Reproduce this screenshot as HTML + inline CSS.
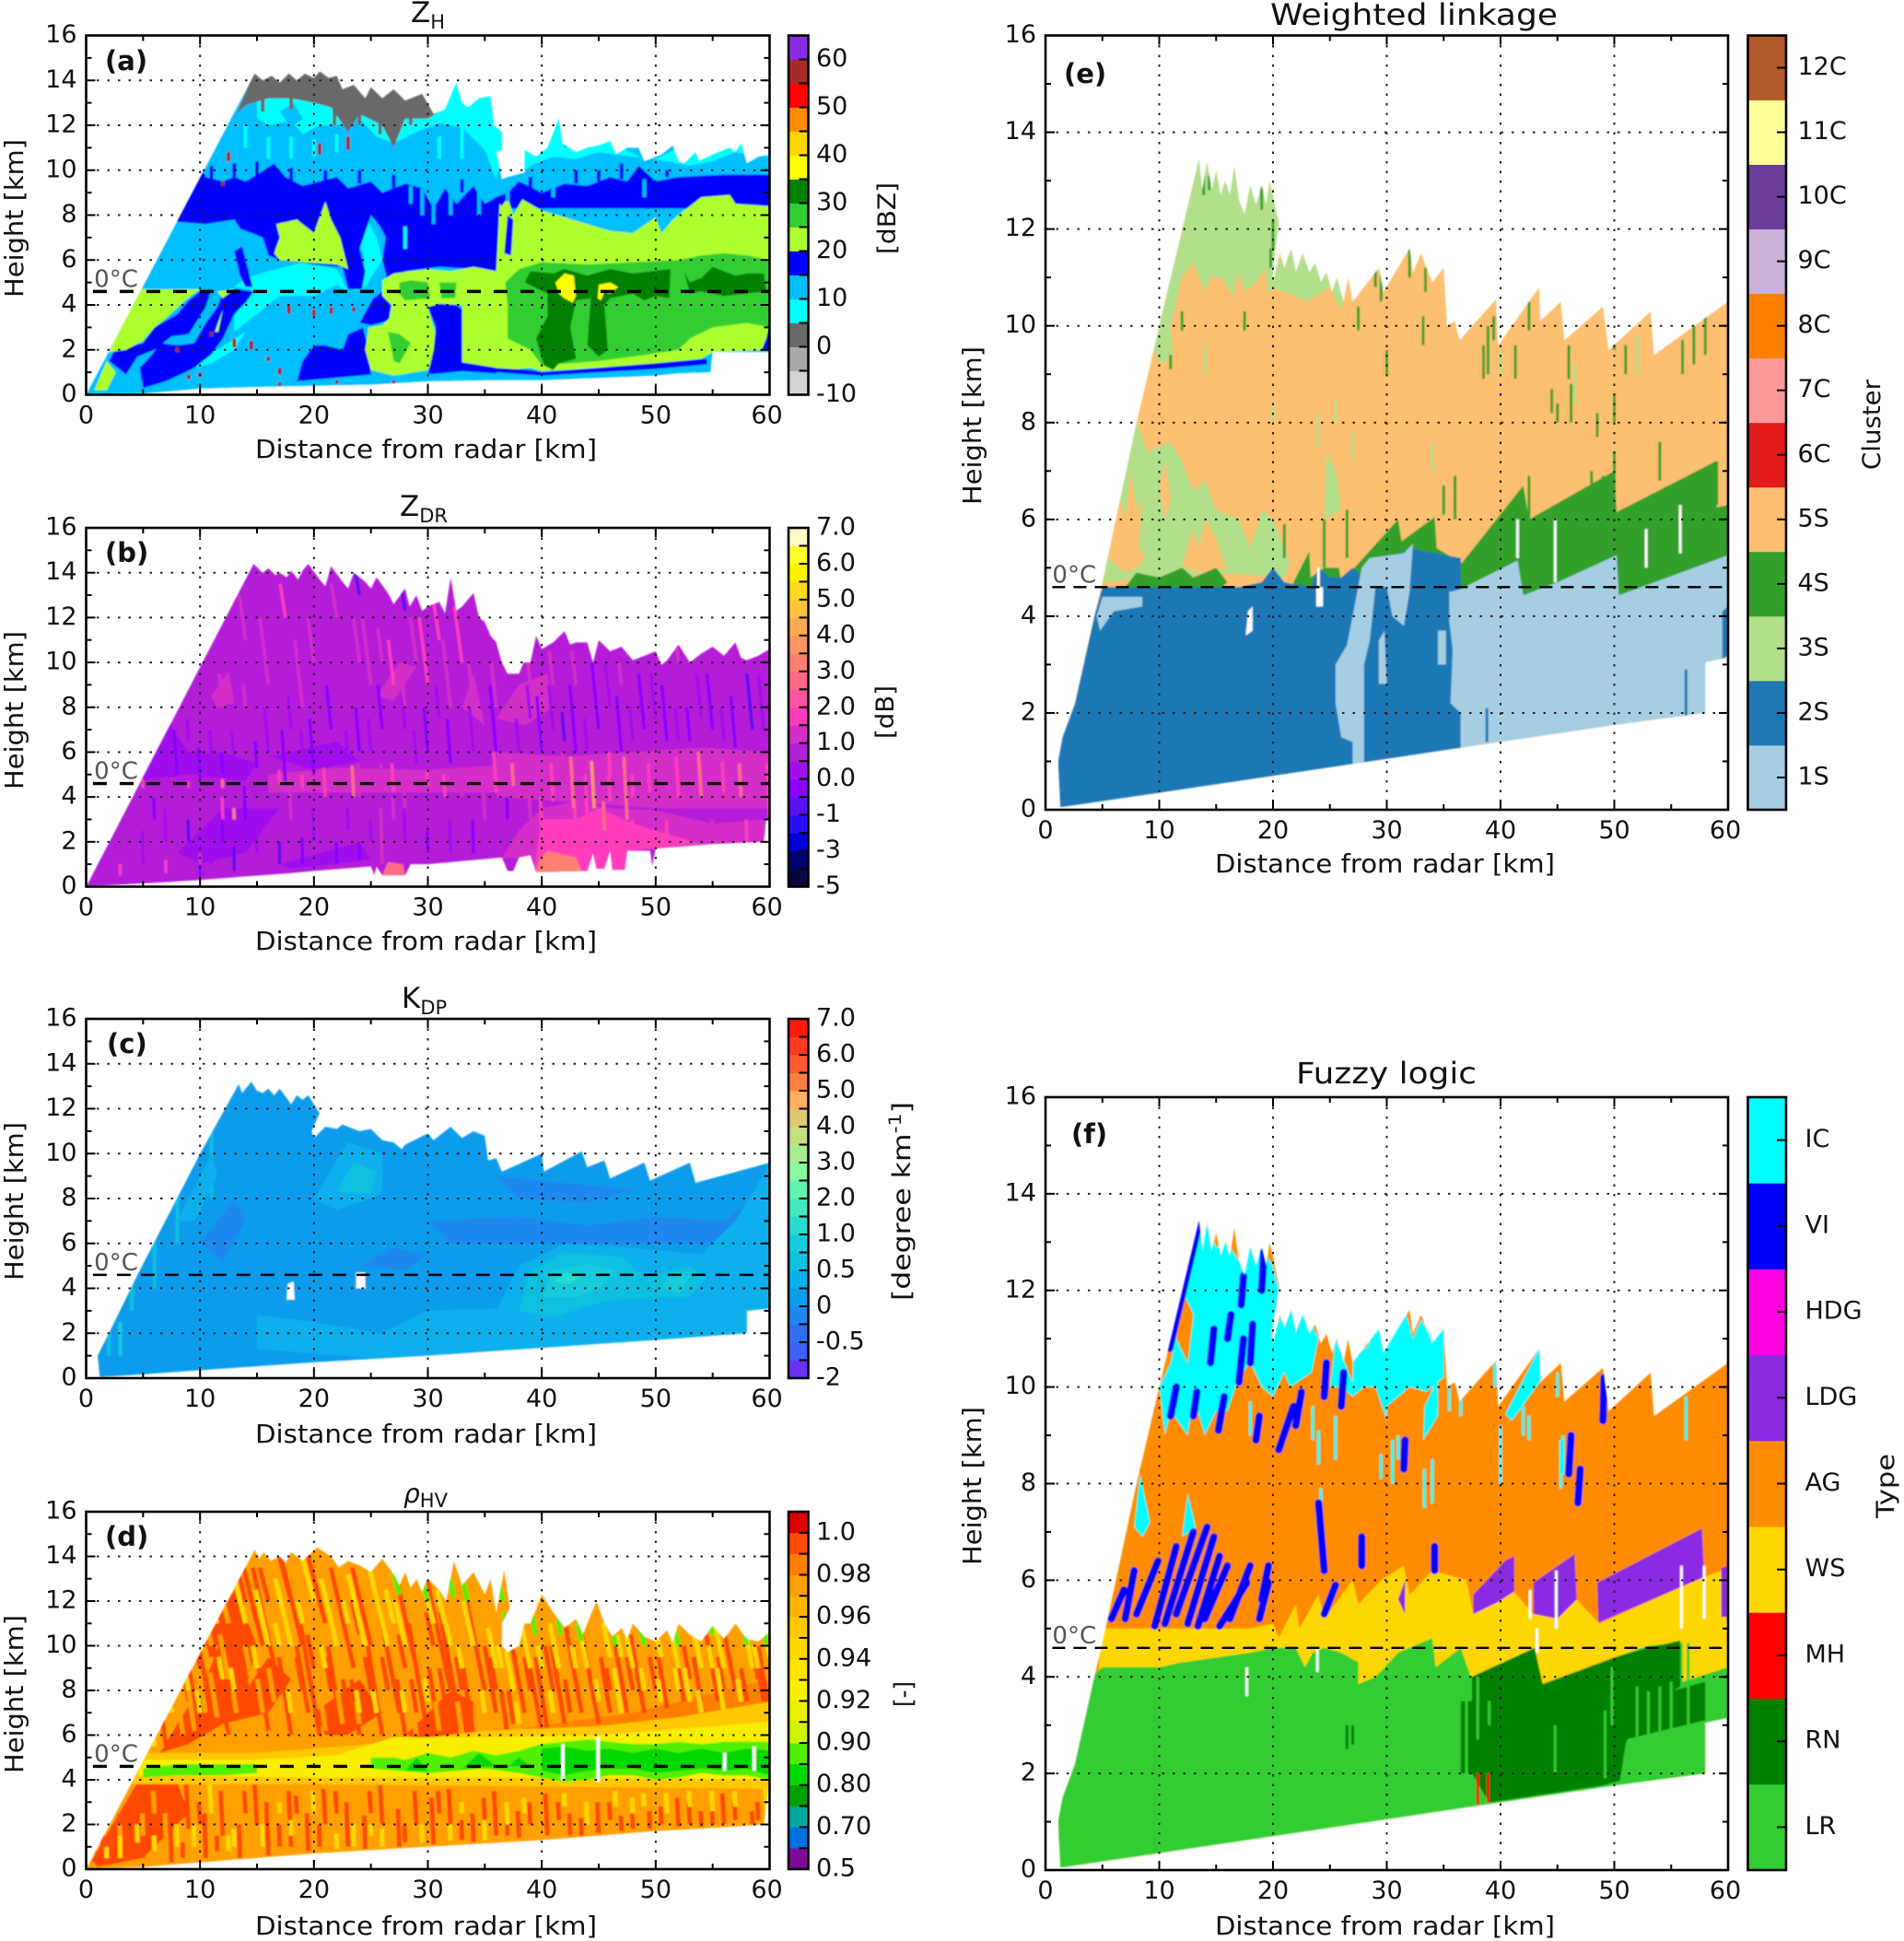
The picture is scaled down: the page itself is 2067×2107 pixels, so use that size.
<!DOCTYPE html>
<html lang="en">
<head>
<meta charset="utf-8">
<title>Radar RHI panels</title>
<style>
html,body{margin:0;padding:0;background:#fff}
svg{display:block}
text{font-family:"DejaVu Sans","Liberation Sans",sans-serif;fill:#111}
</style>
</head>
<body>
<svg id="fig" xmlns="http://www.w3.org/2000/svg" width="2067" height="2107" viewBox="0 0 2067 2107">
<defs><filter id="soft" x="0" y="0" width="1" height="1"><feGaussianBlur stdDeviation="0.7"/></filter></defs>
<rect width="2067" height="2107" fill="#fff"/>
<g id="panels"></g>

<g>
<text x="446" y="24" font-size="31">Z<tspan font-size="21" dy="7">H</tspan></text>
<text x="434" y="560" font-size="31">Z<tspan font-size="21" dy="7">DR</tspan></text>
<text x="436" y="1094" font-size="31">K<tspan font-size="21" dy="7">DP</tspan></text>
<text x="438" y="1631" font-size="28"><tspan font-style="italic">ρ</tspan><tspan font-size="21" dy="5">HV</tspan></text>
<text x="1379" y="27" font-size="32" textLength="312" lengthAdjust="spacingAndGlyphs">Weighted linkage</text>
<text x="1407" y="1176" font-size="32" textLength="196" lengthAdjust="spacingAndGlyphs">Fuzzy logic</text>
</g>

<g font-weight="bold" font-size="29">
<text x="114" y="76">(a)</text>
<text x="114" y="610">(b)</text>
<text x="116" y="1143">(c)</text>
<text x="114" y="1678">(d)</text>
<text x="1155" y="90">(e)</text>
<text x="1163" y="1241">(f)</text>
</g>

<g font-size="28">
<text x="277" y="497" textLength="371" lengthAdjust="spacingAndGlyphs">Distance from radar [km]</text>
<text x="277" y="1031" textLength="371" lengthAdjust="spacingAndGlyphs">Distance from radar [km]</text>
<text x="277" y="1566" textLength="371" lengthAdjust="spacingAndGlyphs">Distance from radar [km]</text>
<text x="277" y="2100" textLength="371" lengthAdjust="spacingAndGlyphs">Distance from radar [km]</text>
<text x="1319" y="947" textLength="369" lengthAdjust="spacingAndGlyphs">Distance from radar [km]</text>
<text x="1319" y="2100" textLength="369" lengthAdjust="spacingAndGlyphs">Distance from radar [km]</text>
</g>

<g font-size="28">
<text transform="translate(25,323) rotate(-90)" textLength="172" lengthAdjust="spacingAndGlyphs">Height [km]</text>
<text transform="translate(25,857) rotate(-90)" textLength="172" lengthAdjust="spacingAndGlyphs">Height [km]</text>
<text transform="translate(25,1390) rotate(-90)" textLength="172" lengthAdjust="spacingAndGlyphs">Height [km]</text>
<text transform="translate(25,1925) rotate(-90)" textLength="172" lengthAdjust="spacingAndGlyphs">Height [km]</text>
<text transform="translate(1065,548) rotate(-90)" textLength="172" lengthAdjust="spacingAndGlyphs">Height [km]</text>
<text transform="translate(1065,1699) rotate(-90)" textLength="172" lengthAdjust="spacingAndGlyphs">Height [km]</text>
</g>

<g font-size="27">
<text transform="translate(972,276) rotate(-90)" textLength="78" lengthAdjust="spacingAndGlyphs">[dBZ]</text>
<text transform="translate(970,802) rotate(-90)" textLength="58" lengthAdjust="spacingAndGlyphs">[dB]</text>
<text transform="translate(988,1412) rotate(-90)" textLength="216" lengthAdjust="spacingAndGlyphs">[degree km<tspan font-size="19" dy="-10">-1</tspan><tspan dy="10">]</tspan></text>
<text transform="translate(990,1853) rotate(-90)" textLength="28" lengthAdjust="spacingAndGlyphs">[-]</text>
<text transform="translate(2041,510) rotate(-90)" textLength="98" lengthAdjust="spacingAndGlyphs">Cluster</text>
<text transform="translate(2056,1648) rotate(-90)" textLength="70" lengthAdjust="spacingAndGlyphs">Type</text>
</g>
</svg>

<script>
/* ---------- shared axis values ---------- */
const distanceTicks = [0, 10, 20, 30, 40, 50, 60];
const distanceMinorTicks = [5, 15, 25, 35, 45, 55];
const heightTicks = [0, 2, 4, 6, 8, 10, 12, 14, 16];
const heightMinorTicks = [1, 3, 5, 7, 9, 11, 13, 15];
const freezingLevel = [4.6];

/* ---------- (a) ZH ---------- */
const zhBounds = [-10,-5,0,5,10,15,20,25,30,35,40,45,50,55,60,65];
const zhColors = ['#d3d3d3','#a9a9a9','#696969','#00ffff','#00bfff','#0000ff','#adff2f','#32cd32','#008000','#ffff00','#ffd700','#ff8c00','#ff0000','#a52a2a','#8a2be2'];
const zhTickLabels = ['-10','0','10','20','30','40','50','60'];
const zhBaseValue = [12];
const zhEnvelope = [[0,0],[14.8,14.3],[15.5,14],[16.3,14.2],[17,13.9],[17.8,14.3],[18.5,14],[19.2,14.3],[20,14.1],[20.5,14.4],[21.3,14.1],[22,14.2],[22.5,13.6],[23.5,13.8],[24.5,13.2],[25,13.7],[26,13.2],[27,13.6],[28,13.1],[29.5,13.4],[30.5,12.5],[31.5,12.7],[32.5,13.9],[33,13],[33.5,12.8],[34.5,13.2],[35.5,13.3],[35.8,12],[36.5,11.7],[36.5,10.9],[36,10.8],[36.5,9.6],[37,9.7],[38.5,9.9],[38.5,10.9],[39.5,10.6],[40.5,11],[41.5,12.3],[41.8,11.2],[43,10.8],[44,11],[45,11.1],[46,11.3],[46.5,10.7],[47.5,11],[48.5,11],[49,10.4],[50.5,10.7],[51.5,11.1],[52,10.4],[52.5,10.3],[53.5,10.8],[53.8,10.4],[55,10.7],[56.5,11],[57,10.8],[57.5,11.2],[58,10.3],[59,10.6],[60,10.7],[60,1.9],[55,1.9],[54.8,1],[52,.95],[50,.85],[45,.75],[40,.65],[35.5,.65],[30,.6],[25,.45],[20,.4],[15,.35],[10,.27],[5,.05],[0,0]];
const zhLayers = [
 [7,[[15,13.2],[18,13.5],[22,13.5],[27,13],[30,13],[32.5,14],[36,13.5],[36.6,11],[36,9.6],[35,10.9],[33,11.9],[31,12.1],[29,11.7],[27,11.2],[25.5,11.5],[24,12.3],[22,12],[20.5,12],[19,11.6],[18,12.2],[16,12],[15,12.3]]],
 [12,[[17,12.6],[18.2,13],[19,12.3],[18,11.9]]],
 [7,[[36,10.8],[38,11],[41.5,12.4],[42,11],[46,11.4],[47,11],[49,10.5],[50,10.5],[52,11],[54,10.8],[57.5,11.3],[60,10.8],[60,10.6],[57,10.8],[55,10.4],[53,10.2],[51,10.4],[48,10.6],[45,10.8],[43,10.5],[41,10.6],[39,10.2],[38,9.8]]],
 [7,[[13,2.8],[15,3.6],[17,4.4],[20,4.4],[22,4.9],[23,4.6],[22,5.6],[19,5.9],[16,5.5],[14,5.2],[13,4.8],[14.5,4.7],[13,3.5]]],
 [7,[[8,1],[11,1.4],[13,2],[14,2.8],[11.5,2],[9,1.5]]],
 [7,[[23.5,4.6],[24.5,4.8],[26,6],[25.5,7],[24.3,8.2],[23.8,7],[24.5,6]]],
 [2,[[14.8,14.4],[22,14.4],[24,13.9],[27,13.7],[29.5,13.5],[31,12.6],[30,12.3],[28,12.3],[27,11],[26,12],[24,12.5],[23,11.7],[21.5,12.8],[20,13],[18,13.2],[16,13.2],[14,12.9],[13.2,12.5]]],
 [17,[[8.5,8.6],[10,10.3],[10.5,9.7],[12,9.5],[13,9.7],[14,9.5],[15,9.8],[16.5,10.3],[17.5,9.7],[19,9.3],[20.5,9.5],[22,9.7],[23,9.2],[25,9.5],[26,9],[28,9.4],[29.5,9.2],[30.5,8.3],[31.5,9.2],[32.5,8.5],[34,9.3],[35,8.5],[36,8.8],[37,9],[38,9.5],[40,9],[42,9.4],[44,9.3],[46,9.7],[47.5,9.5],[48.5,10.2],[50,9.5],[52,9.7],[56,9.8],[60,9.8],[60,8.3],[36.3,8.3],[36,5.5],[34,5.6],[31,5.7],[28,5.5],[26.5,5],[26,6],[26.3,7],[25.8,7.5],[25,8],[24,6.5],[24.5,5.5],[24.2,4.7],[23,4.7],[22.5,5.7],[20,5.8],[17,6],[16,6.2],[15.5,7],[13.5,7.4],[13,7.8],[10.5,7.6],[8,7.7]]],
 [17,[[13,4.7],[14.7,4.6],[14,4.1],[13,3.6],[12,2.5],[11,1.8],[9.5,1.2],[7,.6],[5,.3],[4.7,1.2],[5.8,1.8],[6.5,2.3],[8,2.2],[9.5,2.3],[10.5,3.2],[11.5,3.9],[12,4.5]]],
 [17,[[10,4.6],[11,4.7],[10.5,3.9],[9,2.7],[7.5,2.6],[6,2],[4.5,1.7],[3.5,.9],[2,1.5],[2.5,2],[5,2.3],[6,3],[7,3.3],[8,3.6],[9,4.2]]],
 [17,[[18.5,.6],[25,.9],[24.7,2.2],[24.3,3],[23,2.7],[22.5,2],[21,2.2],[20,2.2],[19,1.5]]],
 [17,[[24,3.2],[25,3.1],[26.5,3.3],[27,3.8],[26,4.6],[25.2,4.3]]],
 [17,[[13,6.4],[13.7,6.6],[14.6,4.8],[14,4.8],[13.5,5.3]]],
 [22,[[36.3,8.5],[36.5,8.4],[37,8.8],[37.5,8],[38.3,8.7],[40,8.2],[42,7.9],[44,7.6],[46,7.3],[48,7.2],[50,7.9],[50.5,7.2],[51.5,7.8],[53,8.4],[54,8.8],[56.5,8.9],[57,8.5],[60,8.4],[60,2],[55,1.9],[54,1.6],[50,1.4],[45,1.2],[40,1.05],[39,1.2],[37,1.1],[35,1.2],[33,1.4],[33,4],[31,4],[30,3.9],[31,2.2],[30,1.1],[27,.85],[25,1.1],[24.5,2],[24.8,3],[26,3.1],[26.6,3.4],[26.8,4],[26,4.4],[26,5.1],[27,5.4],[30,5.6],[32,5.5],[34,5.7],[36,5.5]]],
 [17,[[36.7,6.3],[37.3,6.2],[37.5,7.8],[37,8]]],
 [17,[[33,1.45],[36,1.2],[36,.95],[33,1.05],[30,.9],[30.5,2],[30.7,3],[30,3.9],[31,4.05],[32.5,4],[33,3.8]]],
 [22,[[2,1.9],[4.8,4.7],[10,4.7],[8.7,4.2],[7,3.4],[6,3],[5,2.4],[3.5,2]]],
 [22,[[.7,.2],[1.8,1.5],[2.6,1],[1.8,.2]]],
 [22,[[16.5,6.3],[17,7],[16.7,7.6],[18.5,7.8],[20,7.2],[21,8.6],[21.5,7.8],[22.3,7],[23,5.6],[22,5.8],[19,5.9],[17,6]]],
 [22,[[11.5,4.6],[13,4.7],[12,4.3]]],
 [22,[[11.3,2.8],[12,3.8],[11.6,2.8]]],
 [27,[[36.8,5],[38,5.6],[40,5.9],[44,5.8],[48,5.9],[52,6],[54,6.2],[56,6.3],[58,6.2],[60,6],[60,3],[58,3.2],[55,3],[53,2.5],[52,2],[48,1.7],[45,1.5],[40,1.3],[39,2],[37,2.5],[37,4]]],
 [27,[[27.5,5],[28.5,5.1],[30,5],[30.2,4.3],[28,4.2],[27.5,4.5]]],
 [27,[[31,5],[32.5,5],[32.4,4.3],[31.2,4.3]]],
 [27,[[26.5,2.8],[27.5,2.7],[28.5,2.3],[27.5,1.4],[27,1.5]]],
 [32,[[38.5,5],[39,5.5],[41,5.4],[42,5.6],[44,5.3],[46,5.6],[48,5.4],[51.3,5.6],[51.2,4.3],[50,4.4],[49,4.2],[48,4.5],[46,4.3],[45.5,4],[45.8,2],[45,1.7],[44,2.2],[44.3,4.3],[43,4.2],[42.5,3],[43,1.6],[41.5,1.4],[41,1.1],[40.2,1.3],[39.5,2.5],[40.5,3.5],[40.5,4.5]]],
 [32,[[52.5,5.5],[53,5],[54,5.2],[55,5.7],[57,5.3],[58,5.4],[59.5,5.4],[59.7,4.6],[56,4.4],[54,4.6],[53,4.5]]],
 [37,[[41.2,5],[42,5.4],[42.8,5.3],[43,4.4],[42.7,4.1],[42,4.3],[41.5,4.5]]],
 [37,[[44.9,4.3],[45,4.9],[46,5],[46.7,4.8],[46,4.5],[45.5,4.6],[45.2,4.2]]],
 [17,[[34,1.25],[39,1.1],[40,1],[45,1.2],[50,1.4],[54.5,1.6],[54.5,1.35],[50,1.15],[45,1],[40,.85],[36,1],[34,1.05]]],
 [17,[[59.3,2],[60,2],[60,3.2],[59.7,2.5]]]
];
const zhStreaks = [
 [12.5,10.4,10.8,57],[12,9.3,9.5,57],[20.5,10.7,11.2,57],[23,10.9,11.5,57],[17.8,3.6,4,57],[20,3.5,3.8,57],[21.5,3.6,3.9,57],[23.5,3.7,3.9,57],[13,2.1,2.5,57],[14.5,2,2.4,57],[8,1.9,2.1,57],[10,.8,1,57],[9,.7,.9,57],[16,1.5,1.7,57],[17,.9,1.2,57],[11,2.6,2.8,57],[17,.4,.55,57],[22,.5,.65,57],[27,.5,.65,57],
 [11,9.5,10.2,17],[13,9.6,10.3,17],[15,9.7,10.4,17],[18,9.5,10.1,17],[21,9.5,10,17],[24,9.4,10,17],[27,9.2,9.8,17],[33,9,9.6,17],[39,9.2,9.7,17],[43,9.4,10,17],[45,9.5,10,17],[47,9.6,10.3,17],[51,9.7,10,17],
 [28.5,8.5,9.3,12],[29.5,8,9.2,12],[30.5,7.6,8.4,12],[32,8,9,12],[34.5,8,9,12],[37,8.6,9.2,12],[41,8.8,9.4,12],[49,8.8,9.6,12],
 [24,12,12.8,2],[25.8,11.6,12.6,2],[21.8,12,12.8,2],[28.5,12,13,2],[15.5,12.6,13.2,2],[18,12.7,13.3,2],
 [28,6.5,7.5,7],[31,10.5,11.5,7],[33,10.5,12,7],[14,11,12,7],[16,10.5,11.5,7],[18,10.5,11.5,7],[20,10.6,11.4,7],[22,10.8,11.6,7]
];

/* ---------- (b) ZDR ---------- */
const zdrBounds = [-5,-4,-3,-2,-1,-.5,0,.5,1,1.5,2,2.5,3,3.5,4,4.5,5,5.5,6,6.5,7];
const zdrColors = ['#08083c','#000070','#0000d8','#2a10f8','#5a10f0','#8a00ff','#a010ec','#b41fd8','#d52ec8','#ff3cbc','#ff55a0','#ff6a88','#ff8070','#ff9560','#ffaa50','#ffc238','#ffd820','#fff000','#ffff2a','#fffbc8'];
const zdrTickLabels = ['-5','-3','-1','0.0','1.0','2.0','3.0','4.0','5.0','6.0','7.0'];
const zdrBaseValue = [.75];
const zdrEnvelope = [[0,0],[14.7,14.4],[15.5,14],[16,14.2],[16.6,13.9],[17,14],[17.6,13.8],[18,14.1],[18.6,13.7],[19,14.1],[19.5,14.4],[20.5,13.7],[21,13.4],[21.5,14.3],[22.5,13.6],[23,13.3],[23.5,14],[24.5,13.6],[25,13.3],[25.5,13.8],[26.5,13.1],[27,12.6],[28,13.3],[28.4,12.5],[29,13],[29.5,12.3],[30,12.5],[31,12.7],[31.5,12.2],[32,13.8],[32.5,12.3],[33,12.5],[34,13.1],[34.5,12],[35,11.8],[35.5,11.2],[36,10.9],[36.5,10],[37,9.5],[38,9.5],[38.4,10],[39,10],[39.5,11.2],[40,10.6],[41,10.9],[42,11.4],[42.5,10.8],[43,10.9],[44,10.9],[44.5,10],[45,11],[46,10.5],[47,10.7],[48,10.1],[50,10.5],[50.5,9.9],[51,10.1],[52,10.8],[53,10],[54,10.4],[55,10.7],[56,10.3],[57,10.9],[57.5,10.2],[58,10.1],[59,10.3],[60,10.6],[60,3],[59.7,3],[59.5,2],[55,1.9],[50,1.7],[49.7,.9],[49.5,1.6],[47.5,1.6],[47.3,.75],[46.2,.75],[46,1.6],[45.5,.8],[44.8,.8],[44.5,1.5],[44,.7],[39.5,.65],[39,1.4],[38,1.3],[37.5,.7],[37,.7],[36.5,1.3],[30,1],[28.5,1],[28,.5],[26,.5],[25.5,.9],[25.3,.5],[25,.9],[20,.7],[18,.6],[10,.3],[7,.2],[0,0]];
const zdrLayers = [
 [.25,[[4.5,4.7],[7,7.5],[9,6],[12,6],[15,5.5],[14,4.7],[9,5]]],
 [.25,[[16,5.8],[22,6.5],[24,5.6],[20,5.2]]],
 [.25,[[8,1.5],[12,3.5],[17,3.5],[14,1.5],[10,1]]],
 [.25,[[17,1],[24,2],[25,1.2],[18,.8]]],
 [1.25,[[36,4],[36,6],[42,5.8],[48,6],[54,6.2],[60,6],[60,3.5],[50,3.5],[42,3.8]]],
 [1.25,[[16,4.2],[22,4.2],[30,4.2],[36,4.2],[36,5.4],[30,5.2],[22,5.3],[16,5]]],
 [1.25,[[36.5,1.3],[38,1.3],[39,1.45],[39.5,.65],[44,.7],[44.5,1.5],[50,1.7],[55,1.9],[59.5,2],[59.7,3],[55,2.8],[50,3.4],[46,3.5],[43,3.8],[40,3.5],[38,2.5]]],
 [1.75,[[39.3,.65],[44,.7],[44.8,.8],[45.5,.8],[46,1.6],[46.2,.75],[47.3,.75],[47.5,1.6],[50,1.7],[54,1.9],[52,2.2],[48,2.8],[45,3.5],[43,3],[40,3]]],
 [3.25,[[39.5,.65],[43.5,.7],[43,1.3],[40.5,1.6],[39.8,1.2]]],
 [2.5,[[26,.5],[28,.5],[27.8,1],[26.5,1.1]]],
 [1.25,[[36,7.5],[38,9],[40.5,9.5],[41,8],[38.5,7.2]]],
 [1.25,[[11,8.5],[12.5,9.6],[13,8.2],[11.5,8]]],
 [1.25,[[25.5,8.5],[27.5,10],[29,9.8],[27,8.3]]],
 [1.25,[[33,8],[34,9.5],[35,7.2]]]
];
const zdrStreaks = [
 [8,5,7,-.2],[10,4.8,6.2,-.2],[12,5,6,-.2],[15,5.3,6.5,-.2],[17.5,4.7,7,-.2],[20,5,7.5,-.2],[21.5,7,9,-.2],[24,6,8,-.2],[26,7,9,-.2],[30,6,8,-.2],[32,5.5,7.5,-.2],[36,6,9,-.2],[40,6,8.5,-.2],[42,6.5,7.8,-.7],[43,6,9,-.2],[45,7,10,-.2],[47,6,8.5,-.2],[49,7,9.5,-.2],[51,6.5,9,-.2],[53,6.5,8,-.2],[55,7,9.5,-.2],[57,6.2,8.5,-.2],[58.5,7,9.5,-.7],[6,3,4,-.2],[9,2,3,-.7],[12,2,4,-.2],[14,3,4.5,-.2],[17,1,2,-.7],[19,1,2.2,-.2],[22,1,2,-.2],[24,1.2,2,-.2],[18,3,4,-.2],[30,1.5,2.5,-.2],[34,1.5,3,-.2],[37,3,4,-.2],[10,.5,1.5,-.2],[13,.7,1.8,-.7],[28,12.3,13.5,-.7],[24,13,14,-.7],
 [7,5.5,6.5,.25],[9,6.5,7.5,.25],[11,6,7,.25],[13,5.5,7,.25],[16,6,8,.25],[18,7,8.5,.25],[19,6,7,.25],[23,5.5,7,.25],[25,6,7.5,.25],[28,7,8.5,.25],[29,5.5,7,.25],[31,7.5,9,.25],[34,6,8,.25],[38,6,7.5,.25],[39,7.5,9,.25],[41,7,9,.25],[44,6,7.5,.25],[46,8,10,.25],[48,6.5,8,.25],[50,7.5,9.5,.25],[52,6.5,8,.25],[54,7.5,9.5,.25],[56,6.5,8,.25],[59.5,7,9.5,.25],[20,2,3.5,.25],[23,2.5,3.5,.25],[25,2,3,.25],[28,2,3.5,.25],[32,1.5,3,.25],[5,1,2.5,.25],[7,2,3.5,.25],[11,1,2,.25],[15,1.5,3,.25],
 [12,8,9.5,1.25],[14,8,9,1.25],[20,10,12,1.25],[22,12,13.5,1.25],[24,10,12,1.25],[26,10,11.5,1.25],[28,8,10,1.25],[29,10,12,1.25],[32,8,11,1.25],[34,8,10,1.25],[36,8,10,1.25],[39,9,10.5,1.25],[41,9,10.5,1.25],[43,9,10.5,1.25],[47,9,10,1.25],[52,10,10.7,1.25],[24,4,5.5,1.25],[26,4.5,5.5,1.25],[28,3.5,4.5,1.25],[33,4,5.2,1.25],[39,3,5,1.25],[44,3,5,1.75],[46,5,6,1.75],[48,4,5,1.75],[50,3.5,5,1.25],[53,4,5.5,1.25],[55,3.8,5.5,1.25],[58,4,5.8,1.25],[40,2.5,4,1.75],[43,2,3.8,1.75],[45.5,2.5,3.8,2.5],[48,2,3,1.75],[51,2,3,1.75],[55,2,3,1.25],[58,2,3,1.75],
 [5,4.4,4.8,1.75],[9,4.4,4.7,1.75],[12,4.4,4.8,2.5],[17,4.6,5.2,1.75],[19,4.4,5,1.75],[21,4,5.3,1.75],[23.5,4,5.4,2.5],[27,4.2,5.5,1.75],[30,4.5,5.2,1.75],[31.5,4,5,1.75],[36,4.2,6,1.75],[37.5,4.5,5.5,2.5],[41,3.8,5.5,1.75],[42.8,3.5,5.8,2.5],[44.6,3.5,5.6,3.5],[46,3.8,5,1.75],[47.5,3,5.8,2.5],[49.5,4.2,5.5,1.75],[52,4,5.8,1.75],[54,4,6,2.5],[56,4.2,5.6,1.75],[57.5,4,5.5,2.5],[60,3,5.5,1.75],
 [14,11,13,1.25],[16,9,12,1.25],[17.5,12,13.5,1.75],[19,8,11,1.25],[25,9,12,1.25],[27,9,11,1.75],[30,9,12,1.75],[31,11,13,1.75],[33,10,12.5,1.75],[12,3,4,1.75],[13,3,3.5,3.25],[10,1,1.5,1.25],[7,.6,1.2,1.75],[3,.5,1,1.75],[18,3,5,1.25],[26,1,3.5,1.25],[27,3,4,1.25],[35,3,4.5,1.25],[42,4.5,6,1.25]
];

/* ---------- (c) KDP ---------- */
const kdpBounds = [-2,-1,-.5,-.25,0,.25,.5,.75,1,1.5,2,2.5,3,3.5,4,4.5,5,5.5,6,6.5,7];
const kdpColors = ['#6a30f8','#4060f4','#3070f0','#1e88f0','#0c9cec','#08b0ec','#0cc0e0','#14ccdc','#28dcd0','#40e8c0','#60f4b0','#88f8a0','#a8ec90','#c8dc80','#e0c870','#ffb060','#ff8040','#ff5a30','#ff3a20','#ff1a10'];
const kdpTickLabels = ['-2','-0.5','0','0.5','1.0','2.0','3.0','4.0','5.0','6.0','7.0'];
const kdpBaseValue = [.1];
const kdpEnvelope = [[1.2,.05],[1,1],[1.3,1.3],[2,2],[4.5,4.6],[10,10],[13.4,13.1],[13.7,12.7],[14.5,13.2],[15,12.8],[15.5,12.7],[16,12.9],[16.5,12.6],[17,12.9],[18,12.2],[18.5,12.6],[19,12.4],[19.5,12.6],[20,12.2],[20.5,11.8],[19.8,11],[20,10.7],[21,11.2],[22,11.1],[22.5,11.3],[24,11],[25,11.1],[26,10.6],[27,10.5],[27.7,10.2],[28,10.4],[30,10.9],[30.5,10.6],[32,11.2],[33,10.7],[34,11],[35,10.8],[35.3,9.7],[36,9.8],[36.5,9.2],[40,10],[40.2,9.2],[43.5,10.1],[44,9.4],[45.5,9.7],[46,8.9],[49,9.6],[49.5,8.8],[53,9.6],[53.5,8.7],[60,9.6],[60,3.1],[58,3],[58,2],[50,1.7],[40,1.35],[30,1],[20,.7],[10,.35],[3,.1],[1.2,.05]];
const kdpLayers = [
 [-.1,[[30,7],[38,7.2],[44,6.8],[50,7.2],[56,7],[60,8.5],[60,6.5],[54,6],[46,6],[38,6],[32,6]]],
 [-.1,[[10,6],[13,8],[14,7],[12,5.2]]],
 [-.1,[[24,5],[27,5.8],[30,5.5],[28,4.8]]],
 [-.1,[[36,9],[44,8.6],[48,8.4],[44,7.8],[38,8]]],
 [.4,[[15,1.3],[25,.9],[40,1.35],[50,1.7],[58,2],[60,3.1],[60,4],[50,4],[42,3.2],[30,3],[26,2],[20,2.5],[15,2.8]]],
 [.4,[[36,3],[38,5],[42,6],[48,5.8],[54,5.5],[57,7],[60,9.5],[60,3.5],[50,3],[44,2.5],[38,2.2]]],
 [.4,[[20,8],[23,10.5],[26,10],[26,8.2],[22,7.5]]],
 [.4,[[8,7],[11,10],[11.5,9],[9.5,7]]],
 [.6,[[38,3],[39,4.8],[42,5.6],[47,5.4],[49,4.5],[53,5],[54.5,4.5],[53,3.6],[50,3.6],[46,3.5],[44,3.2],[41,2.7]]],
 [.6,[[22,8.3],[23.5,9.6],[25.5,9.2],[25,8.2]]],
 [.85,[[40,3.6],[41,4.8],[44,5.1],[46.5,4.8],[45,4],[43,3.6]]],
 [.85,[[50.5,4],[51.5,4.8],[53,4.5],[52,3.8]]],
 [1.2,[[41,4.3],[42,4.7],[43.5,4.6],[42.5,4.2]]],
 [null,[[17.6,3.5],[17.7,4.2],[18.2,4.3],[18.3,3.5]]],
 [null,[[23.7,4],[23.7,4.7],[24.5,4.7],[24.5,4]]]
];
const kdpStreaks = [[6,4,8,.6],[8,6,9,.6],[11,8,11,.6],[4,3,4.5,.6],[2,1,2,.6],[3,1,2.5,.85]];

/* ---------- (d) rhoHV ---------- */
const rhoBounds = [.5,.6,.7,.75,.8,.85,.9,.91,.92,.93,.94,.95,.96,.97,.98,.99,1,1.01];
const rhoColors = ['#7f0a9a','#0070e0','#00a8a0','#00a000','#00d800','#50f000','#d0f400','#e8f000','#f8ee00','#ffe400','#ffd800','#ffc800','#ffb400','#ffa000','#ff8000','#ff4a00','#dd0000'];
const rhoTickLabels = ['0.5','0.70','0.80','0.90','0.92','0.94','0.96','0.98','1.0'];
const rhoBaseValue = [.975];
const rhoEnvelope = [[0,0],[14.8,14.3],[15.2,13.9],[15.6,14.2],[16.2,13.8],[17,14],[17.5,13.7],[18,14.2],[19,13.8],[20.3,14.4],[21.5,14],[22.2,13.5],[23,13.8],[24,13.6],[25,13.3],[26,13.9],[27,13.2],[27.5,12.7],[28,13.3],[28.5,12.6],[29,13],[29.5,12.4],[30,13],[31,12.5],[31.6,12],[32.3,13.8],[33,12.7],[34,13.3],[35,12.3],[35.5,13],[36,11.5],[36.7,13.4],[37.2,11.7],[36.5,11],[36.5,10],[37,9.7],[38,10],[38.5,11],[39,11],[40,12.3],[41,11.5],[42,10.8],[43,11.2],[43.6,10.5],[44,11],[44.8,12],[45.5,11],[46.2,10.4],[47,10.8],[47.5,10.3],[48,11],[49,10.4],[50,10.2],[51,10.7],[51.5,10.1],[52,11],[53,10.5],[54,10.2],[55,10.9],[56,10.3],[57,11],[58,10.3],[59,10.2],[60,10.6],[60,4],[59.5,2],[57,1.9],[50,1.7],[40,1.3],[30,1],[20,.7],[10,.3],[5,.1],[0,0]];
const rhoUnderLayers = [
 [.995,[[8,6.5],[10.5,8.5],[12,10.5],[13.5,12],[15,10],[14,8],[16,9.5],[18,8.5],[16,7],[12,6.5],[9,5.6],[6.5,5.2]]],
 [.995,[[20,7],[24,8.5],[26,7],[23,6],[21,6]]],
 [.995,[[28,6],[32,8],[34,7.5],[34,6],[30,5.8]]],
 [.995,[[10,10],[13,12.5],[14,12],[12,10]]],
 [.995,[[.5,.4],[4.5,3.9],[8,3.9],[9,2.5],[5,.5],[1,.1]]],
 [.985,[[38,6.3],[48,7],[60,8.5],[60,7],[50,6.5],[44,6.3]]]
];
const rhoLayers = [
 [.955,[[5,5.2],[15,5.2],[25,5.6],[35,6.2],[45,6.4],[52,6.8],[60,7.5],[60,3.6],[40,3.7],[20,3.8],[4,3.8]]],
 [.925,[[5,4.9],[15,4.9],[22,5.1],[27,5.9],[35,5.9],[45,6],[60,6.6],[60,4],[40,4.1],[20,4.1],[4.5,4.2]]],
 [.875,[[25,5],[27,5],[28,4.9],[30,5.2],[32,5],[34,5.3],[36,5.1],[38,5.3],[40,5.6],[42,5.7],[44,5.8],[46,5.7],[48,5.6],[50,5.6],[52,5.7],[54,5.6],[56,5.7],[58,5.7],[60,5.7],[60,4],[58,4.2],[56,4.2],[54,4.3],[52,4.1],[50,4],[48,4.2],[46,4.2],[44,4],[42,3.9],[40,4.1],[38,4.3],[35,4.5],[30,4.3],[25,4.5]]],
 [.875,[[5,4.5],[8,4.7],[12,4.7],[15,4.7],[15,4.3],[12,4.2],[8,4.2],[5,4.1]]],
 [.825,[[40,5.4],[42,5.5],[44,5.3],[46,5.4],[48,5.2],[50,5.4],[52,5.2],[54,5.4],[56,5.2],[58,5.4],[60,5.3],[60,4.2],[58,4.5],[56,4.4],[54,4.5],[52,4.4],[50,4.3],[48,4.5],[46,4.5],[44,4.4],[42,4.2],[40,4.4]]],
 [.825,[[28,4.4],[29,5],[30,4.4]]],
 [.825,[[33,4.5],[34.5,5.2],[36,4.6]]],
 [.825,[[37,4.6],[38,5],[39,4.6]]],
 [null,[[41.7,4],[41.7,5.6],[42,5.6],[42,4]]],
 [null,[[44.8,3.9],[44.8,5.9],[45.1,5.9],[45.1,3.9]]],
 [null,[[55.9,4.4],[55.9,5.2],[56.2,5.2],[56.2,4.4]]],
 [null,[[58.5,4.4],[58.5,5.5],[58.8,5.5],[58.8,4.4]]]
];
const rhoRedValue = [.995];
const rhoOrangeValue = [.975];
const rhoYellowValue = [.945];
const rhoGreenValue = [.87];
const rhoOrangeStreaks = [[8.5,6,7.5],[9.5,6.2,8],[10.5,7,9],[11.5,6.8,8.8],[12.5,8.5,10.5],[13.2,7,8],[14.5,8.5,10],[15.5,7,8.5],[16.5,7.5,9],[21,6.2,7.5],[22.5,6.5,8],[24,6.5,7.5],[29,6,7],[31,6.2,7.5],[33,6,7.5],[11,10,11.5],[12.5,11,12.3],[3,1,2],[5,1.5,2.5],[6,2.5,3.5],[7,1.5,2.5]];
const rhoRedStreaks = [[10,6,10],[11,7,11.5],[12.5,6,10.5],[13,9,13],[14.5,7,10],[15.5,10,13.8],[16,6.2,9],[17,8,13.5],[18,6,9.5],[19,10,14],[19.5,7,10],[20.5,6,11],[21,11,14.3],[22.5,6,10],[23.5,9,13.5],[24,6,8.5],[25,10,13.5],[26,6,10],[27.5,7,12],[28,6,8.5],[29,9,13],[30,6,11],[31,6,9],[32,8,13],[33,6,11.5],[34,6,9],[35,8,12],[36,7,10],[37,6,8],[38.5,7,11.5],[40,6.2,12.5],[40.5,6.2,9.5],[42,6.5,10],[43.5,7,11],[45,6.5,12],[46,7,9.5],[47.5,7,10.5],[49,7,10.5],[51,7.2,9.5],[52.5,7.5,10.5],[54,7.5,9.5],[55.5,7.5,10.5],[57,8,11],[58,7.5,9],[59.5,7.5,9.8],[60,7,10],
 [7,5.5,7],[9,7.5,8.8],[10,9,10.5],[11,9.5,11],[12,11,12.5],[13,10,11.5],[14,12,13.2],[15,11,12.5],[16,12,13.5],[18,12,14],[19,8,9.5],[20,9,10.5],[21.5,8,9.5],[23,7,8.5],[24,10.5,12],[25,8,9.5],[26.5,8,9.5],[28,9,10.5],[29,7,8.5],[30.5,10,11.5],[31.5,7.5,9],[33,8,9.5],[34,10,11],[36,8,9.5],[37.5,6.5,8],[39,8,9.5],[41,8,10],[42.5,7,8.5],[44,9,10.5],[46,8,9],[48,8,9.5],[50,8,9.5],[53,8.5,10],[56,8,9.5],[59,8.5,9.5],
 [1.5,.2,1.5],[2.5,.3,2],[4,.5,3],[5,1.5,4],[6,1,3.5],[7.5,.3,3],[9,1.8,3.8],[10.5,.5,2.5],[12,1.5,3.5],[13.5,.5,2],[15,2,3.8],[16,.6,3],[18,1,3.5],[19.5,.8,2.5],[21,2,3.6],[23,1,3],[24.5,.9,2.4],[26,2,3.8],[27.5,1,2.7],[29,2,3.5],[30.5,1.1,3.2],[32,2,3.6],[34,1.2,2.5],[36,1.5,3.5],[38,1.4,2.6],[40.5,1.5,3.4],[42.5,1.5,2.5],[45,1.6,3],[47,1.7,2.4],[49.5,1.8,2.6],[52,1.9,3.2],[54,1.9,2.6],[56,2,3.4],[58.5,2,2.6],
 [1,.3,.8],[3,1.5,2.5],[5,.5,1.2],[7,2,3],[8.5,.5,1.2],[10,2,3],[11.5,.8,1.5],[14,2.5,3.5],[17,1,2],[18.5,2.5,3.3],[20.5,1,2],[22,2.5,3.5],[25,2.5,3.5],[28,1.2,2],[31,2.5,3.5],[33,1.3,2.2],[35,2.2,3.2],[37,1.5,2.2],[39,2,3],[41.5,2.2,3],[43.5,1.5,2.3],[46,2.2,3],[48,1.8,2.5],[50.5,2,2.8],[53,2,3],[55,2,2.8],[57,2.2,3],[59,2.2,3]];
const rhoYellowStreaks = [[9,8,10],[11.5,11,12.5],[14,11,13],[16,10,12.5],[18,10,13],[20,12,14],[22,10,13],[24.5,10,13.2],[26.5,10,13.5],[28,10,12],[30.5,11,13],[31.5,11,12.5],[34,10,12],[36,9,10.8],[37.5,8,9.8],[39,9,11],[41.5,9,11],[44,9,10.8],[46,9.5,11],[48,9,10.8],[50.5,9.5,10.5],[52,9,10.9],[54,9,10.7],[56,9,11],[58.5,9,10.3],[60,9.5,10.5],[47,7,9],[53,7.5,9],[56,7,9],
 [6,5.5,6.5],[7.5,7,8],[9,9,10],[10,7,8],[12,8.5,9.5],[13,8,9],[15,9,10],[17,10,11],[18,7,8],[19,11,12],[21,9,10],[23,11,12],[24,7,8],[25.5,7,8],[27,11,12.5],[28,7,8],[30,7.5,8.5],[32,10,11],[33,9,10],[35,7,8],[36.5,9,10],[38,6.5,7.5],[40,9,10],[41,7,8],[43,9,10],[45,7.5,8.5],[47,9.5,10.5],[49,8,9],[50.5,7.5,8.5],[52,8,9],[54,7,8],[55,9,10],[57.5,7.5,8.5],[59,9,10],
 [3,.5,1.5],[8,1,2],[11,2.5,3.8],[13,1,1.8],[17,2.5,3],[20,2.5,3.5],[22,.9,1.6],[25,1.5,2],[33,2.5,3],[37,2,3],[44,2,3],[48,2.5,3.2],[51,2.5,3.4],[55,2.6,3.5],[59.8,2.2,3.8],
 [1.8,.5,1],[4.5,1.2,2],[6,.8,1.5],[9.5,1,2],[12.5,.8,1.5],[15.5,1,2],[18,1.5,2.2],[23.5,1,2],[26,1,1.8],[29.5,1.2,2],[32,1.3,2],[35,1.3,2.2],[38.5,2.5,3.2],[42,2.8,3.4],[46.5,2.8,3.5],[49,2.8,3.4],[53,2.8,3.5],[57,2.8,3.5]];
const rhoGreenStreaks = [[27.5,12.3,13.5],[30,12,13],[32.3,12.2,13.8],[33.5,12,13],[35,12.5,13.5],[36.6,12,13.5],[37.3,10,11.5],[38,10,11],[39.5,10.5,11.5],[41.7,10.5,11.2],[43.5,10.2,11],[46.5,10,11],[49,10,10.7],[52,10,11],[55,10.5,11],[58,10,10.5],[59.8,10,10.7]];
const rhoStreaks = rhoRedStreaks.map(s => [s[0], s[1], s[2], rhoRedValue[0]])
  .concat(rhoOrangeStreaks.map(s => [s[0], s[1], s[2], rhoOrangeValue[0]]))
  .concat(rhoYellowStreaks.map(s => [s[0], s[1], s[2], rhoYellowValue[0]]))
  .concat(rhoGreenStreaks.map(s => [s[0], s[1], s[2], rhoGreenValue[0]]));

/* ---------- (e) weighted linkage ---------- */
const clusterBounds = [.5,1.5,2.5,3.5,4.5,5.5,6.5,7.5,8.5,9.5,10.5,11.5,12.5];
const clusterColors = ['#a6cee3','#1f78b4','#b2df8a','#33a02c','#fdbf6f','#e31a1c','#fb9a99','#ff7f00','#cab2d6','#6a3d9a','#ffff99','#b15928'];
const clusterLabels = ['1S','2S','3S','4S','5S','6C','7C','8C','9C','10C','11C','12C'];
const clusterBaseValue = [5];
const clusterEnvelope = [[1.3,.05],[1.1,1],[1.5,1.5],[2.6,2.2],[4.3,4],[5,4.7],[8,8],[10,10],[13.5,13.45],[13.8,12.8],[14.2,13.4],[14.6,12.8],[15,13.2],[15.4,12.7],[15.8,13],[16.2,12.7],[16.6,13.3],[17,12.6],[17.5,12.3],[18,12.9],[18.5,12.5],[19,12.9],[19.4,12.5],[19.7,13],[20,12.7],[20.5,12.1],[20,11.2],[20,10.9],[20.6,11.5],[21,11.2],[21.6,11.6],[22,11.1],[22.6,11.5],[23.2,11.1],[23.7,11.3],[24.2,10.9],[24.7,11.1],[25.2,10.7],[25.6,11],[26.2,10.5],[26.6,11],[27,10.5],[29.3,11.2],[29.7,10.7],[32,11.6],[32.3,11.1],[33,11.5],[34,10.9],[35,11.2],[35.3,10],[36,10.1],[36.4,9.7],[39.6,10.55],[39.8,9.6],[43.4,10.8],[43.5,10.1],[45.3,10.5],[45.6,9.7],[49,10.4],[49.5,9.5],[53.2,10.3],[53.5,9.4],[60,10.5],[60,3.15],[58,3.05],[58,2],[50,1.75],[36.5,1.28],[20,.7],[10,.35],[1.3,.05]];
const clusterLayers = [
 [3,[[9.5,9.5],[10,10],[13.5,14],[20.5,14],[20.5,10.8],[19.5,10.7],[19.3,11.2],[18.5,10.9],[17.5,10.7],[17,11.1],[16.5,10.6],[15.5,11],[14.5,11],[14,10.7],[13,11.3],[12,11],[11,10],[11.2,9.4],[10.2,9.2]]],
 [3,[[19.8,10.8],[21,11.6],[26.5,11],[26,10.3],[25,10.8],[23,10.5],[21,10.7]]],
 [3,[[5,4.7],[8,8],[9,7.4],[11,7.6],[12,7.2],[13,6.6],[14,6.8],[15,6.2],[17,6],[18,5.4],[19,6.2],[20,6],[21.5,5.1],[21,4.8],[15,4.9]]],
 [5,[[5.5,5.2],[6.5,6.5],[7,6],[7.5,7],[8,6.2],[8.5,6.4],[8.2,5.4],[8.8,5.2],[8,5],[7,4.9]]],
 [5,[[12,5],[13,5.8],[13.5,5.4],[14,6],[15,5.6],[15.5,5.2],[16,5],[14,4.9]]],
 [5,[[10,6.6],[10.5,7.2],[11,6.4],[10.5,6]]],
 [3,[[24.5,6],[24.7,7.4],[25.5,7],[26,6.2]]],
 [4,[[21.8,4.7],[23.2,5.35],[23.3,4.8],[24.5,5],[25.8,5],[26,4.7],[31,6],[31.3,5.55],[34.2,6.05],[34.4,5.4],[36.6,5.1],[42,6.7],[42.5,6],[50,7],[50.2,6.15],[58.9,7.2],[59,6.25],[60,6.3],[60,3],[21.8,3]]],
 [4,[[7,4.6],[8,4.9],[10,4.8],[12,5],[13,4.8],[15,5],[16,4.7],[15,4.5],[8,4.5]]],
 [2,[[1.3,.05],[1.1,1],[1.5,1.5],[2.6,2.2],[4.3,4],[5,4.6],[12,4.6],[17,4.6],[19,4.7],[20,5],[21,4.7],[23.3,4.6],[24,5],[25,4.8],[26,4.8],[27,5],[28,4.8],[32,5.4],[36.5,5.2],[36.5,1.28],[20,.7],[10,.35]]],
 [1,[[27.8,5],[28.5,5.2],[31.5,5.3],[32.3,5.5],[32,4.5],[31.5,3.8],[30.5,4],[30,4.6],[29,4.6],[28.5,3.5],[28,3],[28,2],[28,.95],[27,.9],[27,1.4],[26,1.5],[25.5,2.2],[25.5,3],[26.5,3.4],[27,4]]],
 [1,[[29.3,2.6],[29.3,3.5],[29.8,3.7],[30,2.6]]],
 [1,[[34.5,3],[34.5,3.7],[35.2,3.7],[35.2,3]]],
 [1,[[36.5,1.28],[36.5,2],[35.6,2.2],[35.8,3.3],[35.5,3.9],[35.5,4.5],[36.4,4.55],[41.5,5.15],[42,4.43],[45,4.7],[50.2,5.26],[50.4,4.43],[60,5.26],[60,3.15],[58,3.05],[58,2],[50,1.75]]],
 [1,[[4.5,4],[5,4.4],[8.5,4.4],[8.5,4.2],[6,4.1],[4.8,3.7]]],
 [2,[[59.5,3.1],[60,3.2],[60,4.2],[59.5,4.1]]],
 [null,[[17.6,3.6],[17.8,4.1],[18.2,4.2],[18.2,3.7]]],
 [null,[[23.8,4.2],[23.8,4.6],[24.4,4.6],[24.4,4.2]]]
];
const clusterStreaks = [
 [13.9,12.7,13.2,4],[14.4,12.8,13.1,4],[19,12.4,12.9,4],[20,11.6,12.2,4],[19.8,11.2,11.6,4],[12,9.9,10.3,4],[17.5,9.9,10.3,4],[11,9.1,9.4,4],[27.5,9.9,10.4,4],[29,10.8,11.2,4],[29.5,10.5,11.2,4],[32,11,11.6,4],[33.4,10.7,11.2,4],[30,9,9.5,4],[33.2,9.6,10.2,4],[38.5,8.9,9.6,4],[38.9,9,10,4],[39.4,9.7,10.2,4],[41.3,8.9,9.6,4],[42.5,9.9,10.5,4],[46,8.9,9.6,4],[45,8,8.4,4],[50,9.5,10.3,4],[51,9,9.6,4],[56,9,9.7,4],[57,9.2,10,4],[58,9.4,10.2,4],[44.5,8.2,8.7,4],[46.2,8,8.8,4],[48.5,7.7,8.2,4],[50,8,8.6,4],[54,7.3,7.6,4],[21,5.2,5.9,4],[24.5,5,6,4],[26.5,5.2,6.2,4],[35,6.1,6.7,4],[36,6,6.9,4],[42.5,6,6.9,4],[48,6.2,7,4],[49,6.1,6.9,4],[50,6.3,7.4,4],[54,6.8,7.6,4],[59,6.3,7.2,4],
 [14,9,9.6,3],[20,8,8.4,3],[25.5,8,8.5,3],[24,7.5,8.2,3],[27,7.2,7.8,3],[34,7,7.6,3],[40,9,9.5,3],[46.5,8.4,9.2,3],[52,9,9.8,3],
 [41.5,5.2,6,null],[44.8,4.7,6,null],[52.8,5,5.8,null],[55.8,5.3,6.3,null],[24,4.6,5,null],
 [56.3,1.95,2.9,2],[38.8,1.4,2.1,2]
];

/* ---------- (f) fuzzy logic ---------- */
const typeBounds = [.5,1.5,2.5,3.5,4.5,5.5,6.5,7.5,8.5,9.5];
const typeColors = ['#32cd32','#008000','#ff0000','#ffd700','#ff8c00','#8a2be2','#ff00e0','#0000ff','#00ffff'];
const typeLabels = ['LR','RN','MH','WS','AG','LDG','HDG','VI','IC'];
const typeBaseValue = [5];
const typeEnvelope = clusterEnvelope.slice();
const typeLayers = [
 [9,[[11,10.5],[13.5,13.45],[14.3,13.3],[15,12.9],[16,13],[17,12.6],[18,12.9],[19,12.9],[20,12.5],[20.5,12],[19.8,11],[21,11.6],[22,11.3],[22.5,11.1],[21,10.3],[20,9.8],[19,10],[18,10.5],[17,10.2],[16,9.5],[15,9.5],[14,9],[13,9.8],[12.5,9],[11,9.5],[10.5,9],[10,10]]],
 [5,[[11.5,11],[12,12],[13,11.5],[12.5,10.5]]],
 [9,[[20.5,10.6],[21,11.6],[23,11.5],[24,11],[23.4,10.3],[21.5,10]]],
 [9,[[25,10],[25.5,11],[27,10.1],[27,10.8],[28.2,10.8],[29.2,11.3],[30,10.9],[31.5,11.7],[32.3,11],[33,11.4],[34,11],[35,11.2],[35,10.2],[33.5,9.9],[32,10],[30,9.6],[30,9.3],[29,10],[28,10],[27,9.8],[26,10]]],
 [9,[[33.2,8.9],[33.3,9.6],[34.5,10.2],[34.5,9.4]]],
 [9,[[40.4,9.44],[43.4,10.8],[43.6,10.15],[41,9.3]]],
 [9,[[7.8,7.1],[8.3,8.2],[9.2,7.2],[8.5,6.9]]],
 [9,[[12,6.9],[12.5,7.8],[13.2,7.1]]],
 [4,[[4.6,4],[5,5],[8,5],[15,5],[18,5],[20,5.1],[20.5,4.8],[22,5.5],[22.3,5],[24,5.7],[24.5,5.2],[27,6],[27.5,5.5],[29.5,6],[31.5,6.3],[32,5.7],[34,6.2],[37,6],[37.6,5.3],[41.2,5.75],[42.9,5.3],[46.7,5.6],[48.7,5.1],[57.9,6.07],[60,6.25],[60,3],[4.6,3]]],
 [6,[[37.6,5.3],[37.6,5.7],[40.4,6.4],[41.2,6.5],[41.2,5.77],[39.8,5.55]]],
 [6,[[42.9,5.3],[42.9,5.95],[46.5,6.54],[46.7,5.6],[45,5.2]]],
 [6,[[48.6,5.12],[48.5,5.95],[57.7,7.07],[57.9,6.07]]],
 [6,[[59.4,5.24],[59.4,6.25],[60,6.3],[60,5.24]]],
 [6,[[31,5.6],[31.6,6],[31.6,5.3]]],
 [1,[[1.3,.05],[1.1,1],[1.5,1.5],[2.6,2.2],[4,4],[5,4.2],[8,4.2],[10,4.2],[12,4.3],[15,4.4],[18,4.5],[20,4.6],[22,4.6],[22.8,4.2],[23.5,4.5],[24.5,4.6],[26,4.5],[27.5,4.3],[27.5,3.85],[28,3.9],[29,4],[31,4.5],[34,4.8],[34.3,4.2],[36.5,4.6],[37.4,4],[43,4.6],[43.7,3.85],[50,4.4],[53,4.65],[56,4.7],[56,3.9],[60,4.2],[60,3.15],[58,3.05],[58,2],[50,1.75],[36.5,1.28],[20,.7],[10,.35]]],
 [2,[[37.5,4],[43,4.6],[43.7,3.85],[50,4.4],[53,4.6],[55.8,4.75],[55.8,3.8],[53,3.4],[52,3.3],[51,2.6],[50.5,1.85],[49,1.75],[39,1.4],[37.5,2],[36.5,2],[36.5,3.5],[37.5,3.5]]],
 [2,[[51,2.7],[58,3.1],[58,3.9],[52,3.5]]]
];
const typeStreaks = [
 [14,9.3,10,9],[18,9,9.7,9],[23.5,8.9,9.6,9],[24,8.4,9.1,9],[25.5,8.5,9.4,9],[29.5,8.1,8.6,9],[30.5,8,8.9,9],[31,8.5,9,9],[33.3,7.5,8.3,9],[34,7.6,8.5,9],[40,8,9.2,9],[39.5,10,10.5,9],[42,9,9.6,9],[42.5,8.9,9.4,9],[45.5,8.2,9,9],[45.3,7.9,8.9,9],[56.3,8.9,9.8,9],[45,9.8,10.3,9],[35.5,9.5,10,9],[36.5,9.4,9.9,9],[24.2,7.4,7.9,9],
 [44.9,5,6.2,null],[42.6,5.2,5.8,null],[55.9,5,6.3,null],[57.9,5.2,6.3,null],[43.2,4.5,5,null],[17.7,3.6,4.2,null],[23.9,4.1,4.6,null],
 [52,2,3.8,1],[53,2.6,3.7,1],[54,2.5,3.8,1],[55,2.4,3.9,1],[56.5,3,4.7,1],[49.2,1.9,3.3,1],[49.8,3,4.2,1],[44.8,2,3,1],[38,2.7,4,1],[39,3,3.5,1],[37,2,3.5,1],[26.5,2.5,3,2],[27,2.6,3,2],
 [38,1.35,2,3],[38.9,1.4,2,3]
];
const typeRadials = [
 [10.9,10.8,13.5,13.4],[5.8,5.2,6.9,5.8],[8,5.3,9.9,6.4],[9.6,5.05,11.5,6.7],[11.5,5.3,14.2,7.1],[13.4,5.05,15.3,6.5],[15.3,5.05,17.7,5.95],[18.8,5.2,19.6,5.95],[7,5.2,7.8,6.2],[10.5,5.1,13,7],[12.5,5.1,14.8,6.9],[14,5.2,16,6.3],[16.2,5.2,18,6.3],[19,5.6,19.6,6.3],[24.5,5.3,25.5,5.9],[24.5,6.2,24,7.6],[34.2,6.2,34.2,6.7],[27.8,6.3,27.8,6.9],[46.8,7.6,47,8.3],[46,8.2,46.2,9],[49,9.3,49.1,10.2],[31.5,8.3,31.6,8.9],[18.5,8.9,18.8,9.4],[20.5,8.7,21.8,9.6],[22,9.2,22.5,9.9],[24.5,9.8,24.7,10.5],[26,9.6,26.2,10.3],[15.2,9.1,15.7,9.8],[13,9.4,13.3,9.9],[11,9.4,11.5,10],[16,11,16.3,11.5],[17,10.1,17.4,11],[18,10.5,18.2,11.3],[19,12,19.2,12.8],[14.5,10.5,14.8,11.2],[17.2,11.7,17.4,12.3]
];

/* ---------- rendering ---------- */
const SVGNS = 'http://www.w3.org/2000/svg';
const root = document.getElementById('panels');

function mk(parent, tag, attrs) {
  const el = document.createElementNS(SVGNS, tag);
  for (const k in attrs) el.setAttribute(k, attrs[k]);
  parent.appendChild(el);
  return el;
}
function colorFor(bounds, colors, v) {
  if (v === null) return '#ffffff';
  for (let i = 0; i < colors.length; i++) {
    if (v >= bounds[i] && v < bounds[i + 1]) return colors[i];
  }
  return v < bounds[0] ? colors[0] : colors[colors.length - 1];
}

function drawPanel(cfg) {
  const b = cfg.box;
  const xAxis = v => b.l + (v / 60) * (b.r - b.l);
  const yAxis = v => b.b - (v / 16) * (b.b - b.t);
  const pts = arr => arr.map(p => xAxis(p[0]).toFixed(1) + ',' + yAxis(p[1]).toFixed(1)).join(' ');
  const g = mk(root, 'g', {});
  
  

  const clipId = 'clip-' + cfg.id;
  const clip = mk(g, 'clipPath', { id: clipId });
  
  
  mk(clip, 'polygon', { points: pts(cfg.envelope) });

  const soft = mk(g, 'g', { filter: 'url(#soft)' });
  
  
  const data = mk(soft, 'g', { 'clip-path': 'url(#' + clipId + ')' });
  
  

  const base = mk(data, 'polygon', { points: pts(cfg.envelope), fill: colorFor(cfg.bounds, cfg.colors, cfg.baseValue[0]) });
  
  

  const streakFirst = cfg.streakFirst === true;
  const drawLayerList = list => list.forEach(layer => {
    const poly = mk(data, 'polygon', { points: pts(layer[1]), fill: colorFor(cfg.bounds, cfg.colors, layer[0]) });
    
    
  });
  const drawStreaks = () => cfg.streaks.forEach(s => {
    const x1 = s[0] - cfg.lean * (s[2] * s[2] - s[1] * s[1]);
    const line = mk(data, 'line', {
      x1: xAxis(s[0]).toFixed(1), y1: yAxis(s[1]).toFixed(1),
      x2: xAxis(x1).toFixed(1), y2: yAxis(s[2]).toFixed(1),
      stroke: colorFor(cfg.bounds, cfg.colors, s[3]), 'stroke-width': cfg.streakWidth
    });
    
    
  });
  if (cfg.under) drawLayerList(cfg.under);
  if (streakFirst) { drawStreaks(); drawLayerList(cfg.layers); } else { drawLayerList(cfg.layers); drawStreaks(); }

  (cfg.radials || []).forEach(s => {
    const line = mk(data, 'line', {
      x1: xAxis(s[0]).toFixed(1), y1: yAxis(s[1]).toFixed(1),
      x2: xAxis(s[2]).toFixed(1), y2: yAxis(s[3]).toFixed(1),
      stroke: cfg.radialColor, 'stroke-width': cfg.radialWidth, 'stroke-linecap': 'round'
    });
    
    
  });

  /* grid */
  distanceTicks.slice(1, -1).forEach(v => {
    const l = mk(g, 'line', { x1: xAxis(v), x2: xAxis(v), y1: b.t, y2: b.b, stroke: '#222', 'stroke-width': 2, 'stroke-dasharray': '2.5 8' });
    
    
  });
  heightTicks.slice(1, -1).forEach(v => {
    const l = mk(g, 'line', { x1: b.l, x2: b.r, y1: yAxis(v), y2: yAxis(v), stroke: '#222', 'stroke-width': 2, 'stroke-dasharray': '2.5 9' });
    
    
  });

  /* freezing level */
  const fl = mk(g, 'line', { x1: xAxis(0.6), x2: b.r, y1: yAxis(freezingLevel[0]), y2: yAxis(freezingLevel[0]), stroke: '#000', 'stroke-width': cfg.dashWidth, 'stroke-dasharray': cfg.dash });
  
  
  const flLabel = mk(g, 'text', { x: xAxis(cfg.zeroX), y: yAxis(freezingLevel[0]) - 5, 'font-size': 26, style: 'fill:#555' });
  flLabel.textContent = '0°C';
  
  

  /* ticks */
  const tick = (x1, y1, x2, y2, w) => {
    const t = mk(g, 'line', { x1, y1, x2, y2, stroke: '#000', 'stroke-width': w });
    
    
  };
  distanceTicks.forEach(v => { tick(xAxis(v), b.b, xAxis(v), b.b - 10, 2); tick(xAxis(v), b.t, xAxis(v), b.t + 10, 2); });
  distanceMinorTicks.forEach(v => { tick(xAxis(v), b.b, xAxis(v), b.b - 6, 2); tick(xAxis(v), b.t, xAxis(v), b.t + 6, 2); });
  heightTicks.forEach(v => { tick(b.l, yAxis(v), b.l + 10, yAxis(v), 2); tick(b.r, yAxis(v), b.r - 10, yAxis(v), 2); });
  heightMinorTicks.forEach(v => { tick(b.l, yAxis(v), b.l + 6, yAxis(v), 2); tick(b.r, yAxis(v), b.r - 6, yAxis(v), 2); });

  /* frame */
  const frame = mk(g, 'rect', { x: b.l, y: b.t, width: b.r - b.l, height: b.b - b.t, fill: 'none', stroke: '#000', 'stroke-width': 2.6 });
  
  

  /* tick labels */
  distanceTicks.forEach(v => {
    const t = mk(g, 'text', { x: xAxis(v) - (v === 60 ? 3 : 0), y: b.b + 31, 'font-size': 27, 'text-anchor': 'middle' });
    t.textContent = String(v);
    
    
  });
  heightTicks.forEach(v => {
    const t = mk(g, 'text', { x: b.l - 10, y: yAxis(v) + 7.5, 'font-size': 27, 'text-anchor': 'end' });
    t.textContent = String(v);
    
    
  });

  /* colorbar */
  const c = cfg.bar;
  const n = cfg.colors.length;
  const bandH = (b.b - b.t) / n;
  cfg.colors.forEach((col, i) => {
    const r = mk(g, 'rect', { x: c.l, y: b.b - (i + 1) * bandH, width: c.r - c.l, height: bandH + 0.4, fill: col });
    
    
  });
  for (let i = 1; i < (cfg.centered ? n + 1 : n); i++) {
    const yy = cfg.centered ? b.b - (i - 0.5) * bandH : b.b - i * bandH;
    tick(c.r - 10, yy, c.r, yy, 2);
  }
  const cbFrame = mk(g, 'rect', { x: c.l, y: b.t, width: c.r - c.l, height: b.b - b.t, fill: 'none', stroke: '#000', 'stroke-width': 2.6 });
  
  
  cfg.barLabels.forEach((lab, i) => {
    const yy = cfg.centered ? b.b - (i + 0.5) * bandH : b.b - i * cfg.barStep * bandH;
    const t = mk(g, 'text', { x: c.l + cfg.barLabelDx, y: yy + 7.5, 'font-size': 27 });
    t.textContent = lab;
    
    
  });
}

drawPanel({ id: 'a', box: { l: 93.5, r: 835.5, t: 38.5, b: 428.5 }, bar: { l: 856, r: 877.5 }, envelope: zhEnvelope, layers: zhLayers, streaks: zhStreaks, bounds: zhBounds, colors: zhColors, baseValue: zhBaseValue, lean: 0, streakWidth: 4, dash: '15 14', dashWidth: 3.4, zeroX: .7, barLabels: zhTickLabels, barStep: 2, barLabelDx: 30 });
drawPanel({ id: 'b', box: { l: 93.5, r: 835.5, t: 573, b: 962.5 }, bar: { l: 856, r: 877.5 }, envelope: zdrEnvelope, layers: zdrLayers, streaks: zdrStreaks, bounds: zdrBounds, colors: zdrColors, baseValue: zdrBaseValue, lean: .012, streakWidth: 3.5, dash: '15 14', dashWidth: 3.4, zeroX: .7, barLabels: zdrTickLabels, barStep: 2, barLabelDx: 30 });
drawPanel({ id: 'c', box: { l: 93.5, r: 835.5, t: 1106, b: 1496 }, bar: { l: 856, r: 877.5 }, envelope: kdpEnvelope, layers: kdpLayers, streaks: kdpStreaks, streakFirst: true, bounds: kdpBounds, colors: kdpColors, baseValue: kdpBaseValue, lean: 0, streakWidth: 4, dash: '15 11', dashWidth: 2.6, zeroX: .7, barLabels: kdpTickLabels, barStep: 2, barLabelDx: 30 });
drawPanel({ id: 'd', box: { l: 93.5, r: 835.5, t: 1641, b: 2029 }, bar: { l: 856, r: 877.5 }, envelope: rhoEnvelope, under: rhoUnderLayers, layers: rhoLayers, streaks: rhoStreaks, streakFirst: true, bounds: rhoBounds, colors: rhoColors, baseValue: rhoBaseValue, lean: .02, streakWidth: 5, dash: '15 14', dashWidth: 3.4, zeroX: .7, barLabels: rhoTickLabels, barStep: 2, barLabelDx: 30 });
drawPanel({ id: 'e', box: { l: 1135, r: 1876, t: 38.5, b: 879 }, bar: { l: 1897.5, r: 1939 }, envelope: clusterEnvelope, layers: clusterLayers, streaks: clusterStreaks, bounds: clusterBounds, colors: clusterColors, baseValue: clusterBaseValue, lean: 0, streakWidth: 3, dash: '14 9', dashWidth: 2.4, zeroX: .6, barLabels: clusterLabels, centered: true, barLabelDx: 54 });
drawPanel({ id: 'f', box: { l: 1135, r: 1876, t: 1191, b: 2030 }, bar: { l: 1897.5, r: 1939 }, envelope: typeEnvelope, layers: typeLayers, streaks: typeStreaks, radials: typeRadials, radialColor: '#0000ff', radialWidth: 8, bounds: typeBounds, colors: typeColors, baseValue: typeBaseValue, lean: 0, streakWidth: 3, dash: '14 9', dashWidth: 2.4, zeroX: .6, barLabels: typeLabels, centered: true, barLabelDx: 62 });
</script>
</body>
</html>
